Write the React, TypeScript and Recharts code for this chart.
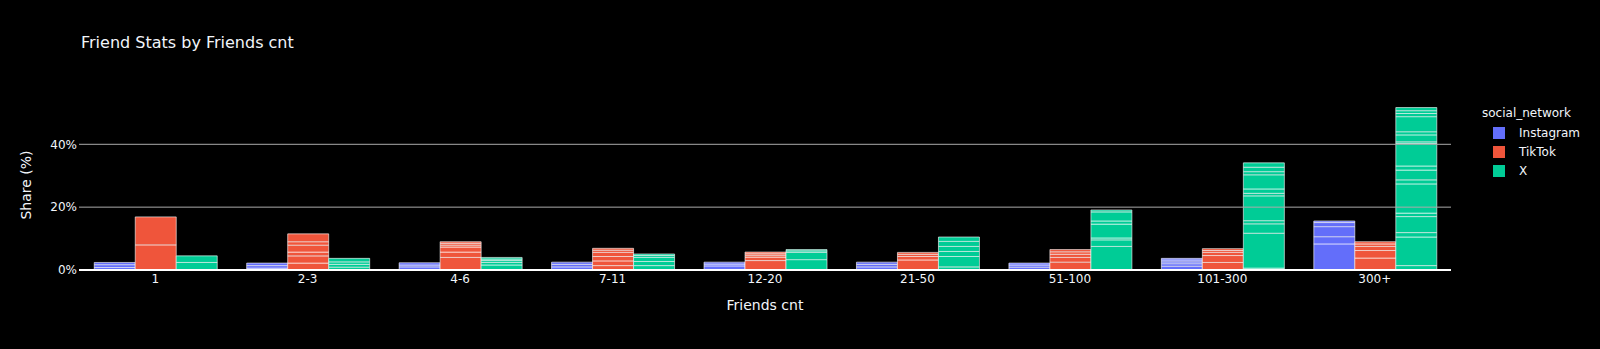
import { BarChart, Bar, XAxis, YAxis, ReferenceLine } from 'recharts'

const categories = ['1', '2-3', '4-6', '7-11', '12-20', '21-50', '51-100', '101-300', '300+']

// each bar is a stack of smaller rows (share %, bottom to top)
const instagramSegments = [
  [0.8, 0.9, 0.7],
  [0.6, 0.8, 0.8],
  [1.0, 0.6, 0.7],
  [1.0, 0.8, 0.7],
  [1.3, 0.6, 0.6],
  [1.0, 0.8, 0.7],
  [0.9, 0.7, 0.6],
  [1.2, 0.8, 0.6, 0.6, 0.5],
  [8.3, 2.3, 3.2, 1.3, 0.5],
]

const tiktokSegments = [
  [8.0, 8.9],
  [2.2, 2.3, 1.2, 2.2, 1.1, 2.5],
  [4.0, 1.7, 1.6, 0.6, 0.6, 0.5],
  [1.4, 1.5, 1.4, 1.3, 0.7, 0.6],
  [3.0, 1.1, 0.6, 0.5, 0.5],
  [3.2, 1.1, 0.7, 0.6],
  [2.5, 1.5, 1.0, 0.8, 0.7],
  [2.4, 2.2, 1.0, 0.6, 0.6],
  [3.8, 2.4, 1.3, 0.8, 0.7],
]

const xSegments = [
  [2.4, 2.1],
  [0.9, 0.9, 0.8, 1.1],
  [1.6, 0.8, 0.6, 0.5, 0.5],
  [1.4, 1.3, 1.3, 0.6, 0.5],
  [3.3, 2.3, 0.5, 0.4],
  [1.0, 3.3, 1.6, 1.6, 1.6, 1.4],
  [7.5, 2.1, 0.6, 4.4, 1.0, 2.9, 0.6],
  [0.6, 11.1, 3.0, 1.0, 7.9, 0.8, 1.4, 4.5, 1.0, 1.4, 1.4],
  [1.4, 9.1, 1.4, 5.1, 1.1, 9.3, 1.3, 3.1, 1.3, 7.2, 0.5, 2.2, 1.0, 4.8, 1.0, 0.9, 1.0],
]

const yTicks = [0, 20, 40]
const gridLines = [20, 40]

const SERIES = [
  { key: 'ig', name: 'Instagram', color: '#636efa', segments: instagramSegments },
  { key: 'tt', name: 'TikTok', color: '#EF553B', segments: tiktokSegments },
  { key: 'x', name: 'X', color: '#00cc96', segments: xSegments },
]

const FONT = '"DejaVu Sans", Verdana, sans-serif'
const TEXT = '#f2f5fa'

const data = categories.map((cat, i) => {
  const row: Record<string, string | number> = { cat }
  SERIES.forEach((s) => {
    s.segments[i].forEach((v, k) => {
      row[`${s.key}_${k}`] = v
    })
  })
  return row
})

const layers = SERIES.flatMap((s) => {
  const n = Math.max(...s.segments.map((seg) => seg.length))
  return Array.from({ length: n }, (_, k) => ({ ...s, dataKey: `${s.key}_${k}` }))
})

export default function App() {
  return (
    <div style={{ position: 'relative', width: 1600, height: 349, background: '#000', fontFamily: FONT }}>
      <style>{'body{margin:0;background:#000}'}</style>
      <div style={{ position: 'absolute', left: 81, top: 33, fontSize: 16, color: TEXT, whiteSpace: 'nowrap' }}>
        Friend Stats by Friends cnt
      </div>
      <div style={{
        position: 'absolute', left: 26, top: 185, fontSize: 14, color: TEXT, whiteSpace: 'nowrap',
        transform: 'translate(-50%, -50%) rotate(-90deg)',
      }}>
        Share (%)
      </div>
      <div style={{
        position: 'absolute', left: 765, top: 305, fontSize: 14, color: TEXT, whiteSpace: 'nowrap',
        transform: 'translate(-50%, -50%)',
      }}>
        Friends cnt
      </div>

      <BarChart width={1600} height={349} data={data}
                margin={{ top: 100, right: 149, bottom: 49, left: 0 }}
                barCategoryGap="10%" barGap={0}>
        {gridLines.map((g) => (
          <ReferenceLine key={g} y={g} stroke="#aaa" strokeWidth={1} />
        ))}
        <XAxis dataKey="cat" height={30} axisLine={false} tickLine={false} tickSize={0} tickMargin={4}
               interval={0} tick={{ fill: TEXT, fontSize: 12, fontFamily: FONT }} />
        <YAxis domain={[0, 54.1]} ticks={yTicks} width={79} axisLine={false} tickLine={false}
               tickSize={0} tickMargin={2} tickFormatter={(v) => `${v}%`}
               tick={{ fill: TEXT, fontSize: 12, fontFamily: FONT }} />
        {layers.map((l) => (
          <Bar key={l.dataKey} dataKey={l.dataKey} stackId={l.key} fill={l.color}
               stroke="rgba(255,255,255,0.6)" strokeWidth={1} isAnimationActive={false} />
        ))}
        <ReferenceLine y={0} stroke="#fff" strokeWidth={2} />
      </BarChart>

      <div style={{ position: 'absolute', left: 1482, top: 104, color: TEXT, fontSize: 12 }}>
        <div style={{ height: 19, lineHeight: '19px', whiteSpace: 'nowrap' }}>social_network</div>
        {SERIES.map((s) => (
          <div key={s.key} style={{ display: 'flex', alignItems: 'center', height: 19, marginLeft: 11 }}>
            <span style={{ width: 12, height: 12, background: s.color, display: 'inline-block', marginRight: 14 }} />
            <span>{s.name}</span>
          </div>
        ))}
      </div>
    </div>
  )
}
